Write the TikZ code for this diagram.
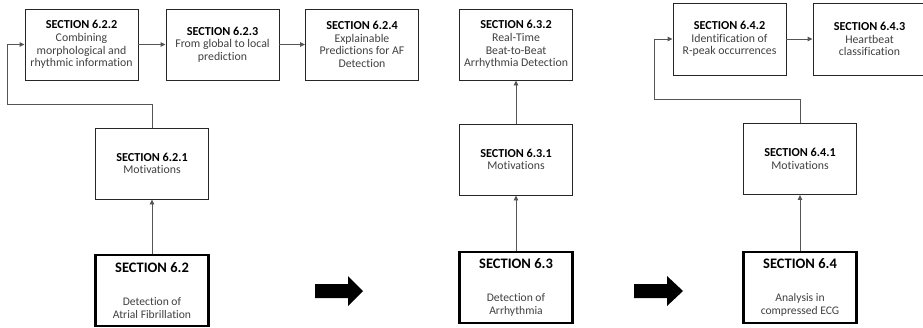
\documentclass[tikz,border=0pt]{standalone}
\usepackage{fontspec}
\setmainfont{Carlito}[Ligatures=NoCommon]
\usetikzlibrary{arrows.meta}
\definecolor{bodytext}{HTML}{404040}
\definecolor{linegray}{HTML}{555555}
\newcommand\secthead[1]{{\color{black}\bfseries\fontsize{12.2}{12.7}\selectfont #1}}
\newcommand\mainhead[1]{{\color{black}\bfseries\fontsize{14.5}{15}\selectfont #1}}
\begin{document}
\begin{tikzpicture}[x=1pt,y=-1pt,
  sub/.style={draw=black!85, line width=0.9pt, minimum width=113pt, minimum height=71pt,
    inner sep=0pt, align=center, text=bodytext, font=\fontsize{11.8}{12.7}\selectfont},
  mainbox/.style={draw=black, line width=2.4pt, minimum width=113pt, minimum height=71pt,
    inner sep=0pt, align=center, text=bodytext, font=\fontsize{11.6}{13}\selectfont},
  conn/.style={draw=linegray, line width=0.9pt, -{Triangle[length=5pt,width=4.5pt]}},
  bigarrow/.style={fill=black}
]
\useasboundingbox (0,0) rectangle (923,327);

% Section 6.2
\node[sub] (s622) at (81.5,44.5) {\secthead{SECTION 6.2.2}\\Combining\\morphological and\\rhythmic information};
\node[sub] (s623) at (222.5,44.5) {\secthead{SECTION 6.2.3}\\From global to local\\prediction};
\node[sub] (s624) at (362,44.5) {\secthead{SECTION 6.2.4}\\Explainable\\Predictions for AF\\Detection};
\node[sub] (s621) at (152,163.5) {\secthead{SECTION 6.2.1}\\Motivations};
\node[mainbox] (s62) at (152,290.5) {\mainhead{SECTION 6.2}\\[20pt]Detection of\\Atrial Fibrillation};

\coordinate (k1) at (7,104);
\draw[conn] (s62) -- (s621);
\draw[conn] (s621.north) |- (k1) |- (s622.west);
\draw[conn] (s622) -- (s623);
\draw[conn] (s623) -- (s624);

% Section 6.3
\node[sub] (s632) at (516,44.5) {\secthead{SECTION 6.3.2}\\Real-Time\\Beat-to-Beat\\Arrhythmia Detection};
\node[sub] (s631) at (516,159.5) {\secthead{SECTION 6.3.1}\\Motivations};
\node[mainbox] (s63) at (516,287.5) {\mainhead{SECTION 6.3}\\[20pt]Detection of\\Arrhythmia};

\draw[conn] (s63) -- (s631);
\draw[conn] (s631) -- (s632);

% Section 6.4
\node[sub, minimum height=72pt] (s642) at (729.5,39) {\secthead{SECTION 6.4.2}\\Identification of\\R-peak occurrences};
\node[sub, minimum height=72pt] (s643) at (869.5,39) {\secthead{SECTION 6.4.3}\\Heartbeat\\classification};
\node[sub] (s641) at (800,159) {\secthead{SECTION 6.4.1}\\Motivations};
\node[mainbox] (s64) at (800,287.5) {\mainhead{SECTION 6.4}\\[20pt]Analysis in\\compressed ECG};

\coordinate (k3) at (654,99);
\draw[conn] (s64) -- (s641);
\draw[conn] (s641.north) |- (k3) |- (s642.west);
\draw[conn] (s642) -- (s643);

% block arrows between the chapters
\fill[bigarrow] (315,284) -- (348,284) -- (348,276) -- (363,291) -- (348,306) -- (348,298) -- (315,298) -- cycle;
\fill[bigarrow] (634,284) -- (667,284) -- (667,276) -- (683,291) -- (667,306) -- (667,298) -- (634,298) -- cycle;
\end{tikzpicture}
\end{document}
